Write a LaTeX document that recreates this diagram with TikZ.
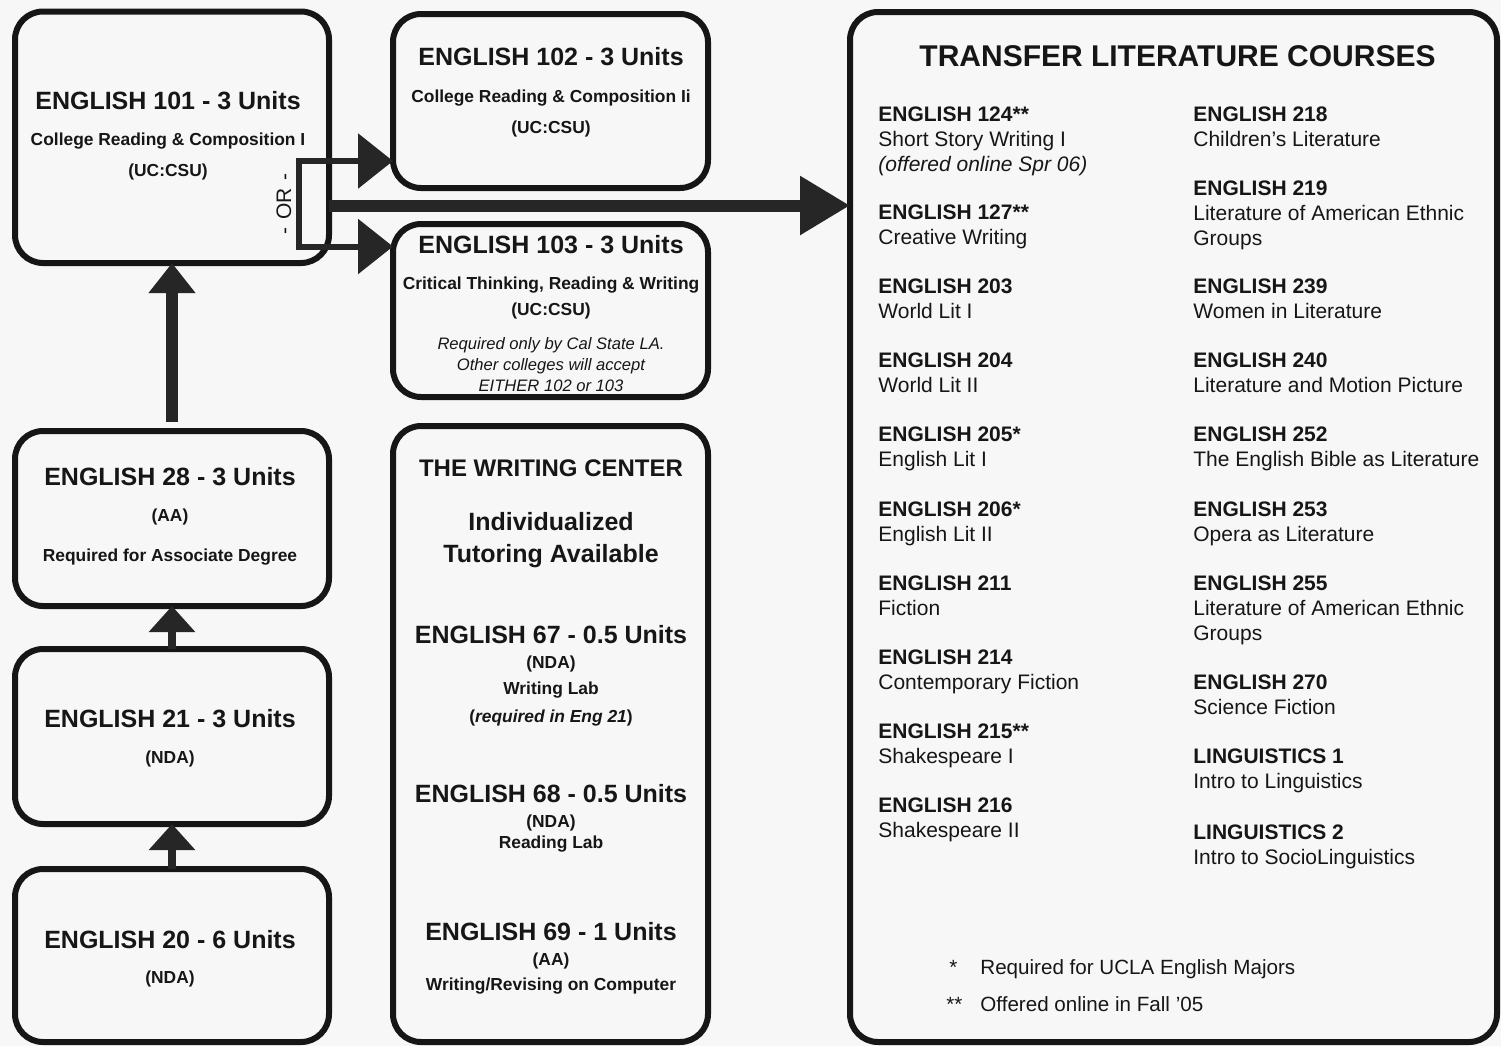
\documentclass[tikz,border=0pt]{standalone}
\usepackage{fontspec}
\setmainfont{Liberation Sans}
\usetikzlibrary{positioning,arrows.meta}

\definecolor{paper}{HTML}{F7F7F7}
\definecolor{ink}{HTML}{161616}
\definecolor{arrowc}{HTML}{262626}

\tikzset{
  box/.style={draw=ink, line width=3pt, rounded corners=14pt, fill=paper, inner sep=0pt, outer sep=0pt},
  head/.style={font=\bfseries\fontsize{12.5}{15}\selectfont, anchor=base, inner sep=0pt, text=ink},
  sub/.style={font=\bfseries\fontsize{8.7}{10}\selectfont, anchor=base, inner sep=0pt, text=ink},
  remark/.style={font=\itshape\fontsize{8.3}{10}\selectfont, anchor=base, inner sep=0pt, text=ink},
  title/.style={font=\bfseries\fontsize{15}{18}\selectfont, anchor=base, inner sep=0pt, text=ink},
  course/.style={font=\fontsize{10.5}{12.5}\selectfont, align=left, anchor=base west, inner sep=0pt, text=ink},
  foot/.style={font=\fontsize{10.3}{12}\selectfont, anchor=base west, inner sep=0pt, text=ink},
  upbig/.style={draw=arrowc, line width=6pt, -{Triangle[length=15pt,width=22.5pt]}},
  upsmall/.style={draw=arrowc, line width=4pt, -{Triangle[length=13pt,width=22.5pt]}},
  orpair/.style={draw=arrowc, line width=3pt, {Triangle[length=17.5pt,width=27pt]}-{Triangle[length=17.5pt,width=27pt]}},
  wide/.style={draw=arrowc, line width=6pt, -{Triangle[length=25pt,width=28pt]}}
}

\begin{document}
\begin{tikzpicture}[x=0.5pt,y=-0.5pt]
\useasboundingbox (0,0) rectangle (1501,1046);
\fill[paper] (0,0) rectangle (1501,1046);
\clip (0,0) rectangle (1501,1046);

% left column
\node[box, minimum width=157pt, minimum height=125.75pt] (b101) at (172,137.25) {};
\node[box, minimum width=157pt, minimum height=87.5pt, below=84pt of b101] (b28) {};
\node[box, minimum width=157pt, minimum height=87.5pt, below=21.5pt of b28] (b21) {};
\node[box, minimum width=157pt, minimum height=86.5pt, below=22.5pt of b21] (b20) {};

% middle column
\node[box, minimum width=157.5pt, minimum height=87pt] (b102) at (550.5,101) {};
\node[box, minimum width=157.5pt, minimum height=86.5pt, below=18pt of b102] (b103) {};
\node[box, minimum width=157.5pt, minimum height=308pt, below=14.5pt of b103] (bwc) {};

% transfer list
\node[box, minimum width=323.5pt, minimum height=515pt] (btr) at (1173.5,527) {};

% arrows
\draw[upbig, shorten <=4.5pt] (b28.north) -- (b101.south);
\draw[upsmall] (b21.north) -- (b28.south);
\draw[upsmall] (b20.north) -- (b21.south);

\coordinate (ora) at (299,161);
\coordinate (orb) at (299,246.5);
\coordinate (ormid) at (299,205.5);
\draw[orpair] (b102.west |- ora) -- (ora) -- (orb) -- (b103.west |- orb);
\draw[wide] (b101.east |- ormid) -- (btr.west |- ormid);
\node[font=\fontsize{10.5}{12}\selectfont, rotate=90, inner sep=0pt, text=ink] (ortext) at (284,204) {-\hspace{4pt}OR\hspace{4pt}-};

% box texts
\node[head] (t101) at (168,109) {ENGLISH 101 - 3 Units};
\node[sub] (t101a) at (168,145) {College Reading \& Composition I};
\node[sub] (t101b) at (168,176) {(UC:CSU)};

\node[head] (t102) at (551,65) {ENGLISH 102 - 3 Units};
\node[sub] (t102a) at (551,102) {College Reading \& Composition Ii};
\node[sub] (t102b) at (551,133) {(UC:CSU)};

\node[head] (t103) at (551,253) {ENGLISH 103 - 3 Units};
\node[sub] (t103a) at (551,289) {Critical Thinking, Reading \& Writing};
\node[sub] (t103b) at (551,315) {(UC:CSU)};
\node[remark] (t103c) at (551,349) {Required only by Cal State LA.};
\node[remark] (t103d) at (551,370) {Other colleges will accept};
\node[remark] (t103e) at (551,391) {EITHER 102 or 103};

\node[head, font=\bfseries\fontsize{12}{15}\selectfont] (twc) at (551,476.5) {THE WRITING CENTER};
\node[head] (twca) at (551,530) {Individualized};
\node[head] (twcb) at (551,562) {Tutoring Available};
\node[head] (t67) at (551,643) {ENGLISH 67 - 0.5 Units};
\node[sub] (t67a) at (551,668) {(NDA)};
\node[sub] (t67b) at (551,694) {Writing Lab};
\node[sub] (t67c) at (551,722) {(\textit{required in Eng 21})};
\node[head] (t68) at (551,802) {ENGLISH 68 - 0.5 Units};
\node[sub] (t68a) at (551,827) {(NDA)};
\node[sub] (t68b) at (551,848) {Reading Lab};
\node[head] (t69) at (551,940) {ENGLISH 69 - 1 Units};
\node[sub] (t69a) at (551,965) {(AA)};
\node[sub] (t69b) at (551,990) {Writing/Revising on Computer};

\node[head] (t28) at (170,485) {ENGLISH 28 - 3 Units};
\node[sub] (t28a) at (170,521) {(AA)};
\node[sub] (t28b) at (170,561) {Required for Associate Degree};

\node[head] (t21) at (170,727) {ENGLISH 21 - 3 Units};
\node[sub] (t21a) at (170,763) {(NDA)};

\node[head] (t20) at (170,948) {ENGLISH 20 - 6 Units};
\node[sub] (t20a) at (170,983) {(NDA)};

% transfer courses (anchored at the last line)
\node[title] (ttr) at (1177.5,66.7) {TRANSFER LITERATURE COURSES};

\node[course] (e124) at (878,171.5) {\textbf{ENGLISH 124**}\\Short Story Writing I\\\textit{(offered online Spr 06)}};
\node[course] (e127) at (878,244.5) {\textbf{ENGLISH 127**}\\Creative Writing};
\node[course] (e203) at (878,318.5) {\textbf{ENGLISH 203}\\World Lit I};
\node[course] (e204) at (878,392.5) {\textbf{ENGLISH 204}\\World Lit II};
\node[course] (e205) at (878,466.5) {\textbf{ENGLISH 205*}\\English Lit I};
\node[course] (e206) at (878,541.5) {\textbf{ENGLISH 206*}\\English Lit II};
\node[course] (e211) at (878,615.5) {\textbf{ENGLISH 211}\\Fiction};
\node[course] (e214) at (878,689.5) {\textbf{ENGLISH 214}\\Contemporary Fiction};
\node[course] (e215) at (878,763.5) {\textbf{ENGLISH 215**}\\Shakespeare I};
\node[course] (e216) at (878,837.5) {\textbf{ENGLISH 216}\\Shakespeare II};

\node[course] (e218) at (1193,146.5) {\textbf{ENGLISH 218}\\Children's Literature};
\node[course] (e219) at (1193,245.5) {\textbf{ENGLISH 219}\\Literature of American Ethnic\\Groups};
\node[course] (e239) at (1193,318.5) {\textbf{ENGLISH 239}\\Women in Literature};
\node[course] (e240) at (1193,392.5) {\textbf{ENGLISH 240}\\Literature and Motion Picture};
\node[course] (e252) at (1193,466.5) {\textbf{ENGLISH 252}\\The English Bible as Literature};
\node[course] (e253) at (1193,541.5) {\textbf{ENGLISH 253}\\Opera as Literature};
\node[course] (e255) at (1193,640.5) {\textbf{ENGLISH 255}\\Literature of American Ethnic\\Groups};
\node[course] (e270) at (1193,714.5) {\textbf{ENGLISH 270}\\Science Fiction};
\node[course] (l1) at (1193,788.5) {\textbf{LINGUISTICS 1}\\Intro to Linguistics};
\node[course] (l2) at (1193,864.5) {\textbf{LINGUISTICS 2}\\Intro to SocioLinguistics};

\node[foot] (star1) at (949,974.5) {*};
\node[foot] (note1) at (980,974.5) {Required for UCLA English Majors};
\node[foot] (star2) at (946,1011.5) {**};
\node[foot] (note2) at (980,1011.5) {Offered online in Fall '05};
\end{tikzpicture}
\end{document}
